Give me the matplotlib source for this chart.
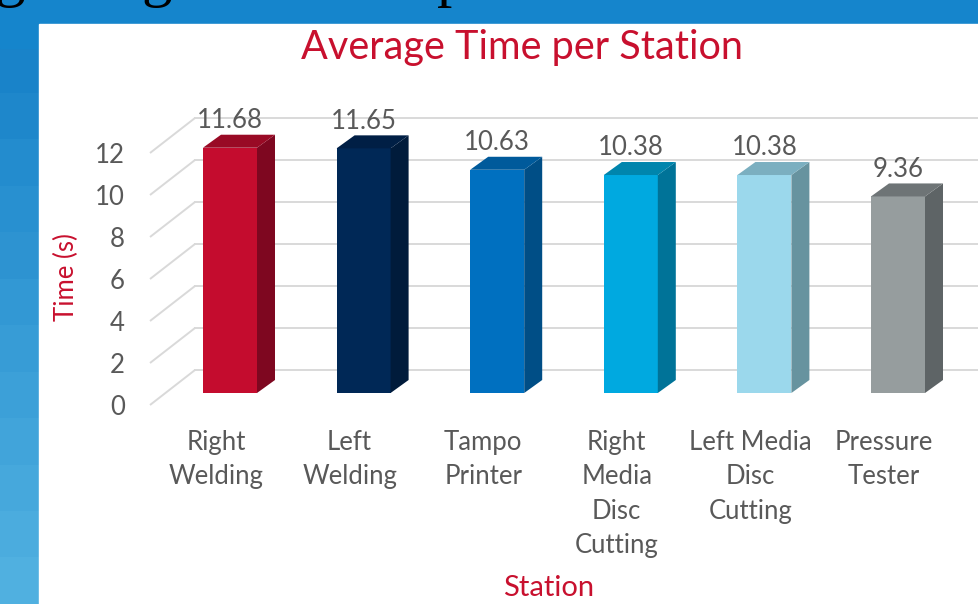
import numpy as np
import matplotlib
matplotlib.use("Agg")
import matplotlib.pyplot as plt
from matplotlib.patches import Polygon, Rectangle
from matplotlib.colors import LinearSegmentedColormap

plt.rcParams['font.family'] = ['Lato', 'DejaVu Sans']

# data
stations = ["Right\nWelding", "Left\nWelding", "Tampo\nPrinter",
            "Right\nMedia\nDisc\nCutting", "Left Media\nDisc\nCutting",
            "Pressure\nTester"]
times = [11.68, 11.65, 10.63, 10.38, 10.38, 9.36]
yticks = [0, 2, 4, 6, 8, 10, 12]

front_colors = ["#C40C2E", "#002856", "#0070C0", "#00A9E0", "#9BD8EC", "#969D9E"]
side_colors = ["#7E0720", "#001B3B", "#004E86", "#007398", "#67939F", "#5E6466"]
top_colors = ["#990A25", "#001F45", "#005A9B", "#0085AD", "#7BAFC0", "#6E7476"]

W, H = 979, 604
fig = plt.figure(figsize=(W / 100, H / 100), dpi=100)

# slide background: blue gradient bands
bg = fig.add_axes([0, 0, 1, 1])
bg.set_axis_off()
cmap = LinearSegmentedColormap.from_list("slide", ["#1580C8", "#50B0E0"])
bands = np.linspace(0, 1, 13).reshape(-1, 1)
bg.imshow(bands, cmap=cmap, aspect="auto", extent=[0, 1, 0, 1], origin="upper")
bg.set_xlim(0, 1)
bg.set_ylim(0, 1)
bg.add_patch(Rectangle((0, 0.92), 1, 0.08, color="#1585CC", zorder=1))
bg.add_patch(Rectangle((39 / W, 0), 1, (H - 24) / H, color="white", zorder=2))

# cut-off slide heading (only descenders visible)
for ch, px in [("g", 10), ("g", 157), ("p", 452)]:
    fig.text(px / W, 1 + 5 / H, ch, fontsize=44, family="Liberation Serif",
             color="black", ha="center", va="baseline")

# chart geometry in pixels -> axes limits
x0_px, step_px, px_per_unit, base_px = 230, 133.6, 21.0, 393
ax_l, ax_r, ax_t, ax_b = 150, 979, 95, 412
ax = fig.add_axes([ax_l / W, (H - ax_b) / H, (ax_r - ax_l) / W, (ax_b - ax_t) / H])
ax.set_xlim((ax_l - x0_px) / step_px, (ax_r - x0_px) / step_px)
ax.set_ylim((base_px - ax_b) / px_per_unit, (base_px - ax_t) / px_per_unit)
ax.patch.set_alpha(0)
for s in ax.spines.values():
    s.set_visible(False)

bar_w = 54 / step_px
ddx = 18 / step_px
ddy = 13 / px_per_unit
front_off = -12 / px_per_unit
back_off = 23 / px_per_unit
x_front = ax.get_xlim()[0]
x_back = (195 - x0_px) / step_px
x_end = ax.get_xlim()[1]

grid_c = "#D9D9D9"
for v in yticks:
    ax.plot([x_front, x_back], [v + front_off, v + back_off], color=grid_c, lw=1.4,
            zorder=1, solid_capstyle="butt", clip_on=False)
    ax.plot([x_back, x_end], [v + back_off, v + back_off], color=grid_c, lw=1.4,
            zorder=1, clip_on=False)

x = np.arange(len(times))
ax.bar(x, times, width=bar_w, color=front_colors, zorder=3)
for xi, v, sc, tc in zip(x, times, side_colors, top_colors):
    r = xi + bar_w / 2
    l = xi - bar_w / 2
    ax.add_patch(Polygon([(r, 0), (r + ddx, ddy), (r + ddx, v + ddy), (r, v)],
                         closed=True, facecolor=sc, edgecolor="none", zorder=3))
    ax.add_patch(Polygon([(l, v), (l + ddx, v + ddy), (r + ddx, v + ddy), (r, v)],
                         closed=True, facecolor=tc, edgecolor="none", zorder=3))
    ax.text(xi, v + 1.3, f"{v:.2f}", ha="center", va="center", fontsize=18.5,
            color="#595959", zorder=4)

ax.set_yticks(np.array(yticks) + front_off, labels=[str(t) for t in yticks])
ax.set_xticks(x - 14 / step_px, labels=stations)
ax.tick_params(axis="y", length=0, pad=18, labelsize=18.5, labelcolor="#595959")
ax.tick_params(axis="x", length=0, pad=13, labelsize=18.5, labelcolor="#595959")
for lab in ax.get_xticklabels():
    lab.set_linespacing(1.47)

red = "#C8102E"
fig.text(522 / W, 1 - 47 / H, "Average Time per Station", fontsize=28.5, color=red,
         ha="center", va="center")
fig.text(549 / W, 1 - 588 / H, "Station", fontsize=21, color=red,
         ha="center", va="center")
fig.text(66 / W, 1 - 277 / H, "Time (s)", fontsize=18.5, color=red,
         ha="center", va="center", rotation=90)

fig.savefig("out.png", dpi=100)
